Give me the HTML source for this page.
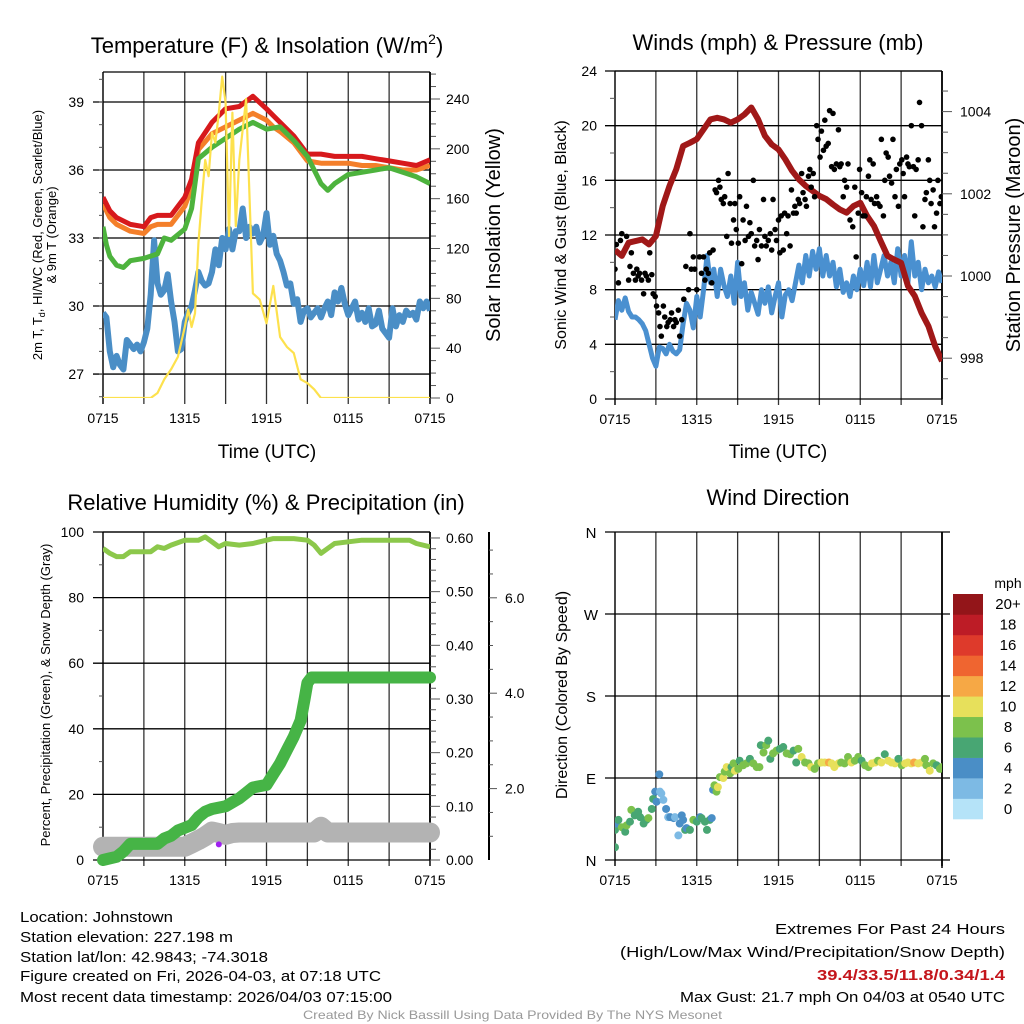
<!DOCTYPE html>
<html><head><meta charset="utf-8"><style>
html,body{margin:0;padding:0;background:#fff;}
svg{display:block;font-family:"Liberation Sans",sans-serif;}
</style></head><body>
<svg id="chart" xmlns="http://www.w3.org/2000/svg" width="1024" height="1024" viewBox="0 0 1024 1024">
<defs>
<clipPath id="c1"><rect x="103" y="72" width="327" height="326"/></clipPath>
<clipPath id="c2"><rect x="615" y="71" width="327" height="328"/></clipPath>
<clipPath id="c3"><rect x="103" y="532" width="327" height="328"/></clipPath>
<clipPath id="c4"><rect x="615" y="532" width="327" height="328"/></clipPath>
</defs>
<text x="267" y="53" font-size="22" text-anchor="middle">Temperature (F) &amp; Insolation (W/m<tspan font-size="14" dy="-9">2</tspan><tspan dy="9">)</tspan></text>
<text x="778" y="50" font-size="22" text-anchor="middle">Winds (mph) &amp; Pressure (mb)</text>
<text x="266" y="510" font-size="22" text-anchor="middle">Relative Humidity (%) &amp; Precipitation (in)</text>
<text x="778" y="505" font-size="22" text-anchor="middle">Wind Direction</text>
<text x="267" y="458" font-size="19" text-anchor="middle">Time (UTC)</text>
<text x="778" y="458" font-size="19" text-anchor="middle">Time (UTC)</text>
<text transform="translate(42,235) rotate(-90)" font-size="13" text-anchor="middle">2m T, T<tspan font-size="9" dy="3">d</tspan><tspan dy="-3">, HI/WC (Red, Green, Scarlet/Blue)</tspan></text>
<text transform="translate(56,235) rotate(-90)" font-size="13" text-anchor="middle">&amp; 9m T (Orange)</text>
<text transform="translate(500,235) rotate(-90)" font-size="20" text-anchor="middle">Solar Insolation (Yellow)</text>
<text transform="translate(566,235) rotate(-90)" font-size="16" text-anchor="middle">Sonic Wind &amp; Gust (Blue, Black)</text>
<text transform="translate(1020,235) rotate(-90)" font-size="20" text-anchor="middle">Station Pressure (Maroon)</text>
<text transform="translate(50,695) rotate(-90)" font-size="13" text-anchor="middle">Percent, Precipitation (Green), &amp; Snow Depth (Gray)</text>
<text transform="translate(567,695) rotate(-90)" font-size="16" text-anchor="middle">Direction (Colored By Speed)</text>
<text x="1008" y="588" font-size="14" text-anchor="middle">mph</text>
<g font-size="15">
<text x="20" y="922" textLength="153" lengthAdjust="spacingAndGlyphs">Location: Johnstown</text>
<text x="20" y="942" textLength="213" lengthAdjust="spacingAndGlyphs">Station elevation: 227.198 m</text>
<text x="20" y="962" textLength="248" lengthAdjust="spacingAndGlyphs">Station lat/lon: 42.9843; -74.3018</text>
<text x="20" y="981" textLength="361" lengthAdjust="spacingAndGlyphs">Figure created on Fri, 2026-04-03, at 07:18 UTC</text>
<text x="20" y="1002" textLength="372" lengthAdjust="spacingAndGlyphs">Most recent data timestamp: 2026/04/03 07:15:00</text>
</g>
<g font-size="15">
<text x="775" y="934" textLength="230" lengthAdjust="spacingAndGlyphs">Extremes For Past 24 Hours</text>
<text x="620" y="957" textLength="385" lengthAdjust="spacingAndGlyphs">(High/Low/Max Wind/Precipitation/Snow Depth)</text>
<text x="817" y="980" textLength="188" lengthAdjust="spacingAndGlyphs" fill="#c4161c" font-weight="bold">39.4/33.5/11.8/0.34/1.4</text>
<text x="680" y="1002" textLength="325" lengthAdjust="spacingAndGlyphs">Max Gust: 21.7 mph On 04/03 at 0540 UTC</text>
</g>
<text x="303" y="1019" font-size="12" fill="#999" textLength="419" lengthAdjust="spacingAndGlyphs">Created By Nick Bassill Using Data Provided By The NYS Mesonet</text>
<g id="marks"></g>
</svg>
<script>
// ---------- data ----------
const timeTickLabels = ["0715","1315","1915","0115","0715"];
const tempTickLabels = [27,30,33,36,39];
const solarTickLabels = [0,40,80,120,160,200,240];
const windTickLabels = [0,4,8,12,16,20,24];
const pressTickLabels = [998,1000,1002,1004];
const rhTickLabels = [0,20,40,60,80,100];
const precipTickLabels = ["0.00","0.10","0.20","0.30","0.40","0.50","0.60"];
const snowTickLabels = ["2.0","4.0","6.0"];
const dirTickLabels = ["N","E","S","W","N"];
const speedBinLabels = ["0","2","4","6","8","10","12","14","16","18","20+"];
const speedBinColors = ["#b5e3f8","#7dbae4","#4a8ec6","#48a673","#7cc14c","#e7e05b","#f6a845","#ef6530","#de3a2b","#bd1c26","#931519"];

const redHours = [0,0.5,1,2,3,3.5,4,5,6,6.5,7,8,9,10,11,12,12.5,13,14,15,16,17,18,19,20,21,22,23,24];
const redTemps = [34.8,34.2,33.9,33.6,33.5,33.9,34.0,34.0,34.8,35.6,37.2,38.1,38.7,38.8,39.25,38.7,38.4,38.1,37.5,36.7,36.7,36.6,36.6,36.6,36.5,36.4,36.3,36.2,36.45];
const orangeTemps = [34.5,33.9,33.6,33.3,33.2,33.5,33.6,33.6,34.4,35.2,36.9,37.6,37.9,38.2,38.5,38.2,37.9,37.7,37.2,36.4,36.3,36.3,36.3,36.2,36.2,36.1,36.0,36.0,36.2];
const greenHours = [0,0.25,0.5,1,1.5,2,3,4,4.5,5,6,6.5,7,8,9,10,11,12,13,14,15,15.5,16,16.5,17,18,19,20,21,22,23,24];
const greenTemps = [33.5,32.7,32.2,31.8,31.7,32.0,32.1,32.3,33.0,32.9,33.4,34.3,36.5,37.0,37.4,37.8,38.1,37.8,37.9,37.3,36.6,36.0,35.4,35.1,35.4,35.8,35.9,36.0,36.1,35.9,35.7,35.4];
const dewStep = 0.25;
const dewTemps = [29.7,29.5,28.0,27.3,27.8,27.4,27.2,28.5,28.3,28.1,28.3,28.0,28.4,29.0,30.5,32.9,31.0,30.5,30.7,31.4,30.2,29.3,28.0,28.1,29.3,29.7,30.0,30.7,31.5,31.1,30.9,31.0,31.5,32.5,31.8,33.0,32.5,33.4,32.5,33.3,33.3,34.3,33.0,33.5,33.2,33.5,32.8,33.1,34.1,32.7,33.1,32.3,32.0,31.5,30.9,31.0,30.1,30.3,29.3,29.8,29.9,29.5,29.7,29.9,29.5,29.9,30.2,29.6,30.6,30.2,30.8,30.1,29.6,29.9,30.2,29.4,29.7,29.3,29.9,29.1,29.2,29.8,29.0,28.8,28.6,29.9,29.1,29.6,29.3,29.8,29.6,29.7,29.4,30.2,29.9,30.2,29.8];
const solarHours = [0,3.5,4,4.5,5,5.5,6,6.25,6.5,6.75,7,7.25,7.5,7.75,8,8.25,8.5,8.75,9,9.25,9.5,9.75,10,10.5,11,11.5,12,12.5,13,13.5,14,14.5,15,15.5,16,24];
const solarValues = [0,0,4,15,23,33,57,71,57,68,124,159,191,178,213,205,229,258,237,130,229,138,191,240,84,79,60,90,49,41,36,15,12,7,0,0];

const pressHours = [0,0.5,1,1.5,2,2.5,3,3.5,4,4.5,5,5.5,6,6.5,7,7.5,8,8.5,9,9.5,10,10.5,11,11.5,12,12.5,13,13.5,14,14.5,15,15.5,16,16.5,17,17.5,18,18.5,19,19.5,20,20.5,21,21.5,22,22.5,23,23.5,24];
const pressValues = [1000.63,1000.49,1000.81,1000.85,1000.89,1000.77,1000.97,1001.70,1002.19,1002.6,1003.16,1003.24,1003.33,1003.57,1003.81,1003.85,1003.81,1003.73,1003.81,1003.93,1004.1,1003.81,1003.41,1003.2,1003.08,1002.84,1002.56,1002.35,1002.19,1002.07,1001.95,1001.87,1001.74,1001.62,1001.54,1001.7,1001.78,1001.46,1001.22,1000.85,1000.49,1000.4,1000.32,999.76,999.51,999.1,998.78,998.29,997.93];
const windStep = 0.25;
const windSpeeds = [5.8,7.2,6.5,7.4,6.4,6.0,6.0,5.8,5.5,5.0,4.0,3.0,2.4,3.8,3.7,3.3,4.0,3.5,3.3,3.6,5.5,7.0,6.5,5.2,7.5,6.0,8.0,10.5,8.5,9.5,7.5,9.5,8.3,7.5,9.0,7.0,10.0,7.5,8.5,6.5,7.8,7.0,6.2,8.0,7.0,8.2,6.3,7.5,8.5,6.0,7.6,8.0,7.2,8.5,9.8,8.5,10.5,9.0,10.8,9.5,11.0,9.0,10.5,9.0,10.0,8.2,9.5,7.8,8.5,7.5,9.0,8.0,9.5,8.3,10.0,8.2,10.5,8.5,9.5,10.5,9.0,10.0,8.5,11.0,9.0,10.5,8.5,11.5,9.0,10.0,8.0,9.5,8.5,9.0,8.2,9.3,8.5];
const gustHours = [0,0.1,0.4,0.5,0.25,0.85,1.1,1,1.2,1.35,1.5,1.6,1.7,1.8,1.95,2.1,2.2,2.3,2.45,2.55,2.7,2.8,2.95,3.05,3.2,3.3,3.4,3.55,3.65,3.8,3.9,4.05,4.15,4.3,4.4,4.5,4.65,4.75,4.9,5.05,5.2,5.4,5.5,5.6,5.75,5.85,6,6.2,6.35,6.5,6.6,6.7,6.85,6.95,7.1,7.2,7.35,7.45,7.6,7.7,7.8,7.95,8.05,8.2,8.3,8.45,8.55,8.7,8.8,8.9,9.05,9.15,9.3,9.4,9.55,9.65,9.8,9.9,10,10.15,10.25,10.4,10.5,10.6,10.75,10.9,11,11.1,11.25,11.4,11.5,11.6,11.75,11.85,12,12.1,12.2,12.35,12.45,12.6,12.7,12.85,12.95,13.1,13.2,13.3,13.45,13.55,13.7,13.8,13.95,14.05,14.2,14.3,14.4,14.55,14.65,14.8,14.9,15.05,15.15,15.3,15.4,15.5,15.65,15.75,15.9,16,16.1,16.25,16.4,16.5,16.6,16.75,16.85,17,17.1,17.25,17.45,17.6,17.7,17.85,17.95,18.1,18.2,18.35,18.45,18.6,18.7,18.8,18.95,19.05,19.2,19.3,19.45,19.55,19.7,19.8,19.9,20.05,20.15,20.3,20.4,20.55,20.65,20.8,20.9,21.05,21.15,21.25,21.4,21.5,21.6,21.75,21.9,22,22.1,22.25,22.35,22.5,22.6,22.75,22.85,23,23.1,23.2,23.35,23.45,23.6,23.7,23.85,23.95];
const gustSpeeds = [9.5,11.3,11.6,12.1,8.5,11.9,9.7,8.7,10.7,9.2,8.7,9.5,9,9.2,8.7,7.7,9.2,9,8.7,10.7,9.1,7.7,7.5,6.8,6.3,5.3,4.6,6.8,6,5.3,5.6,5.8,6.3,5.3,5.8,5.6,6.5,4.6,5.8,7.3,9.7,8,12.1,9.5,10.4,9.5,8,10.4,9.2,10.4,8.7,9.5,9.2,10.7,8.5,10.9,15.3,15.1,16,15.5,14.6,14.3,14.8,11.9,16.5,14.3,11.4,13.1,14.3,12.4,11.4,14.8,9.9,13.1,11.6,14.1,11.9,12.9,12.1,16,11.2,11.6,10.2,12.4,11.2,14.6,11.9,11.2,11.6,12.1,10.9,14.6,12.4,11.6,13.1,10.7,13.4,10.9,13.6,12.1,13.4,11.2,15.3,13.6,14.1,13.6,14.6,14.3,16.5,15.1,14.6,14.1,16.3,16.8,15.5,16.5,14.8,20,19,17.7,19.6,18.2,20.4,18.5,18.7,21.1,17,20.9,16.8,17.2,19.7,17,17.2,14.8,16,15.5,17.2,13.1,12.6,15.5,10.4,13.6,16.8,15.1,13.4,13.4,14.8,16.3,17.5,14.6,17.2,14.3,14.8,14.3,14.1,19,13.4,16,18,17.7,16.3,15.8,19,14.8,16.8,14.1,17.2,17.5,16.5,14.8,17.7,17.2,17,20,17,13.4,16.8,17.5,21.7,20,12.6,14.6,15.1,17.5,16,14.3,15.3,12.6,13.6,16,14.3,14.8];

const rhHours = [0,0.5,1,1.5,2,3,3.5,4,4.5,5,6,7,7.5,8,8.5,9,10,11,12,12.5,13,14,15,15.5,16,16.5,17,18,19,20,21,22,22.5,23,24];
const rhValues = [95,93.5,92.5,92.5,94,94,94,95.5,95,96,97.5,97.5,98.5,97,95.5,96.5,96,96.5,97.5,98,98,98,97.5,96,93.5,95,96.5,97,97.5,97.5,97.5,97.5,97.5,96.5,95.5];
const precipHours = [0,0.5,1,1.5,2,3,4,4.5,5,5.5,6,6.5,7,7.5,8,9,10,10.5,11,12,12.5,13,13.5,14,14.5,14.8,15,15.3,24];
const precipValues = [0,0.003,0.006,0.016,0.03,0.03,0.03,0.04,0.045,0.055,0.06,0.065,0.08,0.09,0.095,0.1,0.115,0.125,0.135,0.14,0.16,0.18,0.205,0.23,0.26,0.3,0.33,0.34,0.34];
const snowHours = [0,6,6.5,7,7.5,8,8.5,9,9.5,10,15.5,16,16.5,17,24];
const snowDepths = [0.78,0.78,0.85,0.92,1.0,1.1,1.07,1.03,1.07,1.08,1.08,1.2,1.08,1.08,1.08];

const dirHours = [0,0,0.1,0.25,0.5,0.75,0.85,1.1,1.2,1.45,1.7,1.85,2.1,2.3,2.45,2.7,2.8,2.95,3.05,3.25,3.3,3.4,3.55,3.75,3.9,4.05,4.3,4.4,4.65,4.75,4.9,5,5.15,5.25,5.5,5.75,6,6.25,6.35,6.6,6.75,6.95,7.1,7.2,7.3,7.45,7.55,7.7,7.95,8.05,8.2,8.45,8.55,8.7,8.8,9.05,9.15,9.4,9.65,9.9,10.15,10.4,10.6,10.7,10.9,11.1,11.25,11.4,11.6,11.85,12.1,12.35,12.6,12.85,13.1,13.3,13.45,13.7,13.95,14.2,14.4,14.65,14.9,15.15,15.4,15.7,15.9,16.1,16.4,16.6,16.85,17.1,17.35,17.6,17.85,18.1,18.35,18.6,18.85,19.1,19.3,19.55,19.8,20.05,20.3,20.55,20.8,21.05,21.3,21.5,21.75,21.95,22.25,22.5,22.75,22.85,23.1,23.35,23.6,23.85,24];
const dirDegrees = [14,33,40,44,36,31,38,42,55,49,53,47,40,44,46,56,67,75,64,94,75,73,66,56,47,47,46,47,27,40,49,44,33,35,33,44,42,47,46,42,33,44,46,77,82,75,80,91,90,97,102,95,102,106,98,100,109,104,106,111,106,102,102,126,118,126,131,111,117,120,122,124,117,116,120,107,122,113,107,106,102,100,106,107,107,107,106,102,106,107,106,113,107,109,113,109,104,102,106,107,109,107,116,109,107,106,111,104,106,107,106,107,106,107,111,104,98,106,104,100,102];
const dirSpeeds = [6,6,4,6,8,6,8,6,8,6,6,6,6,6,8,6,6,4,4,4,2,2,2,4,2,4,4,2,2,4,4,4,6,4,6,8,6,4,6,6,6,6,4,4,8,8,10,8,10,8,10,8,6,8,10,8,6,8,8,6,8,8,8,6,8,8,6,6,8,8,6,6,8,8,6,6,8,10,8,8,10,8,8,10,10,12,10,10,10,8,8,8,10,8,8,6,8,8,10,10,8,10,6,10,10,10,6,8,10,10,10,12,10,10,8,8,10,8,6,8,8];

// ---------- axes ----------
const x1 = h => 103 + h*327/24;
const x2 = h => 615 + h*327/24;
const yT = v => 102 + (39 - v)*22.67;
const yS = s => 398 - s*299/240;
const yW = v => 399 - v*328/24;
const yP = p => 276 - (p - 1000)*41.1;
const yR = v => 860 - v*3.28;
const yPr = v => 860 - v*536.7;
const ySn = v => 884 - v*47.7;
const yD = d => 860 - d*328/360;

const NS = "http://www.w3.org/2000/svg";
const root = document.getElementById("marks");
function mk(tag, attrs, parent){
  const e = document.createElementNS(NS, tag);
  for (const k in attrs) e.setAttribute(k, attrs[k]);
  (parent || root).appendChild(e);
  return e;
}
function pathFrom(xs, ys){
  return xs.map((x,i)=>(i?"L":"M")+x.toFixed(1)+","+ys[i].toFixed(1)).join("");
}
function txt(x,y,s,size,anchor){
  const t = mk("text",{x:x,y:y,"font-size":size,"text-anchor":anchor||"middle"});
  t.textContent = s;
  return t;
}
function line(xa,ya,xb,yb,w,c){
  return mk("line",{x1:xa,y1:ya,x2:xb,y2:yb,stroke:c||"#000","stroke-width":w||1});
}

function timeGrid(xf, top, bot){
  for (let h=0; h<=24; h+=3){
    const g = line(xf(h), top, xf(h), bot+6, (h===0||h===24)?1.8:1.3, "#333");
    
    
  }
  timeTickLabels.forEach((s,i)=>{
    const t = txt(xf(i*6), bot+25, s, 14);
    
    
  });
}
// Panel 1
timeGrid(x1, 72, 398);
line(103,72,430,72,1.2);
tempTickLabels.forEach(v=>{
  const g = line(93, yT(v), 430, yT(v), 1.3);
  
  
  const t = txt(84, yT(v)+5, String(v), 14, "end");
  
  
});
for (let v=26; v<=40; v++) line(99, yT(v), 103, yT(v), 1, "#555");
for (let s=0; s<=260; s+=10) line(430, yS(s), s%40===0?440:436, yS(s), 1, "#555");
line(430,72,430,398,1.5);
solarTickLabels.forEach(s=>{
  const t = txt(446, yS(s)+5, String(s), 14, "start");
  
  
});
const g1 = mk("g",{"clip-path":"url(#c1)"});
let el;
el = mk("path",{d:pathFrom(dewTemps.map((v,i)=>x1(i*dewStep)), dewTemps.map(yT)), fill:"none", stroke:"#4a8ec6","stroke-width":6,"stroke-linejoin":"round"}, g1);


el = mk("path",{d:pathFrom(redHours.map(x1), orangeTemps.map(yT)), fill:"none", stroke:"#f47f2a","stroke-width":5,"stroke-linejoin":"round"}, g1);


el = mk("path",{d:pathFrom(redHours.map(x1), redTemps.map(yT)), fill:"none", stroke:"#d7191c","stroke-width":5,"stroke-linejoin":"round"}, g1);


el = mk("path",{d:pathFrom(greenHours.map(x1), greenTemps.map(yT)), fill:"none", stroke:"#4db33d","stroke-width":5,"stroke-linejoin":"round"}, g1);


el = mk("path",{d:pathFrom(solarHours.map(x1), solarValues.map(yS)), fill:"none", stroke:"#fde14d","stroke-width":2.2,"stroke-linejoin":"round"}, g1);



// Panel 2
timeGrid(x2, 71, 399);
line(615,71,942,71,1.2);
windTickLabels.forEach(v=>{
  const g = line(605, yW(v), 942, yW(v), 1.3);
  
  
  const t = txt(597, yW(v)+5, String(v), 14, "end");
  
  
});
for (let v=2; v<24; v+=4) line(610, yW(v), 615, yW(v), 1, "#555");
line(942,71,942,399,1.5);
for (let p=997.5; p<=1005.5; p+=0.5){ if (yP(p) >= 71 && yP(p) <= 399) line(942, yP(p), p%2===0?952:948, yP(p), 1, "#555"); }
pressTickLabels.forEach(p=>{
  const t = txt(960, yP(p)+5, String(p), 14, "start");
  
  
});
const g2 = mk("g",{"clip-path":"url(#c2)"});
el = mk("path",{d:pathFrom(windSpeeds.map((v,i)=>x2(i*windStep)), windSpeeds.map(yW)), fill:"none", stroke:"#4a90d0","stroke-width":5,"stroke-linejoin":"round"}, g2);


el = mk("path",{d:pathFrom(pressHours.map(x2), pressValues.map(yP)), fill:"none", stroke:"#a01818","stroke-width":6,"stroke-linejoin":"round"}, g2);


gustHours.forEach((h,i)=>{
  const c = mk("circle",{cx:x2(h), cy:yW(gustSpeeds[i]), r:2.8, fill:"#000"}, g2);
  
  
});

// Panel 3
timeGrid(x1, 532, 860);
line(103,532,430,532,1.2);
rhTickLabels.forEach(v=>{
  const g = line(93, yR(v), 430, yR(v), 1.3);
  
  
  const t = txt(84, yR(v)+5, String(v), 14, "end");
  
  
});
for (let v=10; v<100; v+=20) line(99, yR(v), 103, yR(v), 1, "#555");
line(430,532,430,860,1.5);
for (let k=0; k<=30; k++) line(430, yPr(k*0.02), k%5===0?440:436, yPr(k*0.02), 1, "#555");
precipTickLabels.forEach((s,i)=>{
  const t = txt(446, yPr(i*0.1)+5, s, 14, "start");
  
  
});
el = line(489,532,489,860,2);


for (let k=1; k<=14; k++){ const v=k*0.5; if (ySn(v)>=532 && ySn(v)<=860) line(489, ySn(v), v%2===0?497:493, ySn(v), 1, "#555"); }
snowTickLabels.forEach(s=>{
  const t = txt(505, ySn(parseFloat(s))+5, s, 14, "start");
  
  
});
const g3 = mk("g",{"clip-path":"url(#c3)"});
const g3b = mk("g",{});
el = mk("path",{d:pathFrom(snowHours.map(x1), snowDepths.map(ySn)), fill:"none", stroke:"#b3b3b3","stroke-width":20,"stroke-linejoin":"round","stroke-linecap":"round"}, g3b);


el = mk("path",{d:pathFrom(precipHours.map(x1), precipValues.map(yPr)), fill:"none", stroke:"#46b446","stroke-width":12,"stroke-linejoin":"round","stroke-linecap":"round"}, g3b);


el = mk("circle",{cx:x1(8.5), cy:ySn(0.83), r:3, fill:"#a020f0"}, g3b);


el = mk("path",{d:pathFrom(rhHours.map(x1), rhValues.map(yR)), fill:"none", stroke:"#8cc84b","stroke-width":5,"stroke-linejoin":"round"}, g3);



// Panel 4
timeGrid(x2, 532, 860);
dirTickLabels.forEach((s,i)=>{
  const g = line(605, yD(i*90), 950, yD(i*90), 1.3);
  
  
  const t = txt(591, yD(i*90)+6, s, 15, "middle");
  
  
});
line(942,532,942,868,1.5);
const g4 = mk("g",{"clip-path":"url(#c4)"});
function binColor(sp){ let b = Math.min(10, Math.max(0, Math.floor(sp/2))); return speedBinColors[b]; }
dirHours.forEach((h,i)=>{
  const c = mk("circle",{cx:x2(h), cy:yD(dirDegrees[i]), r:4, fill:binColor(dirSpeeds[i])}, g4);
  
  
});
speedBinLabels.forEach((s,i)=>{
  const yTop = 819 - (i+1)*225/11;
  const r = mk("rect",{x:953, y:yTop, width:30, height:225/11+0.3, fill:speedBinColors[i]});
  
  
  const t = txt(1008, yTop+225/22+5, s, 15, "middle");
  
  
});
</script>
</body></html>
